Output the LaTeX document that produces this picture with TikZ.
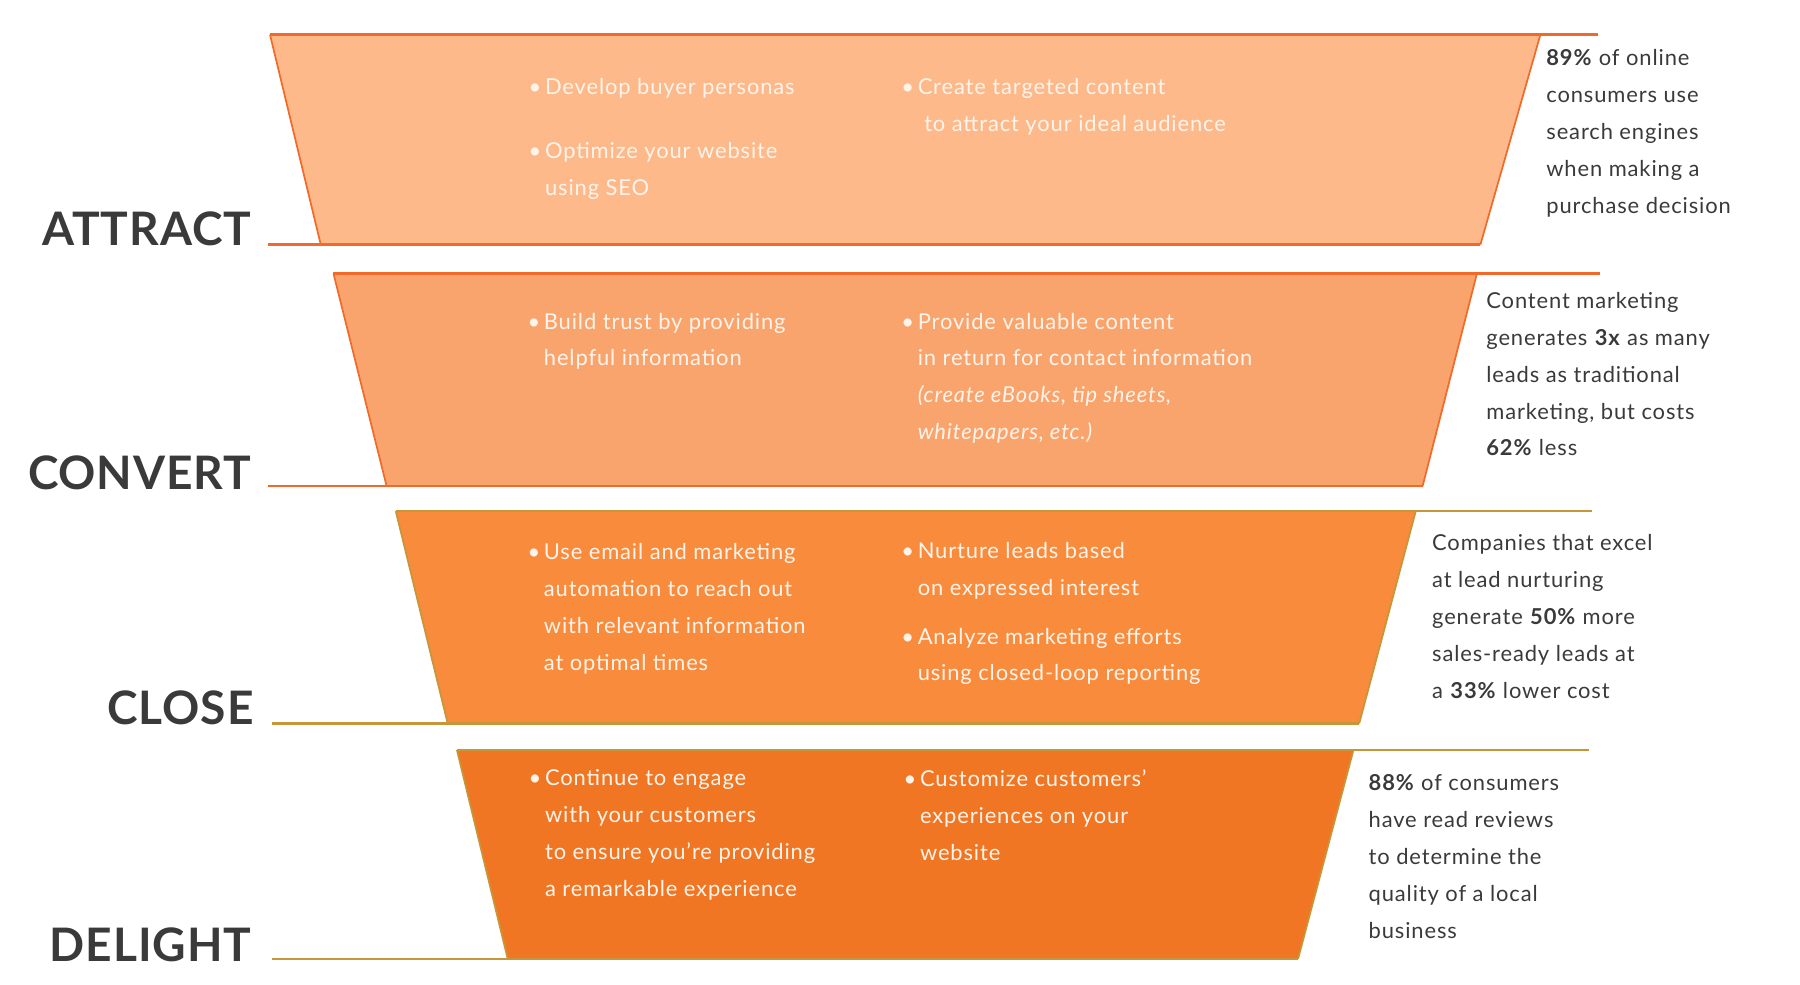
\documentclass[tikz,border=0pt]{standalone}
\usepackage{fontspec}
\setmainfont{Lato}[LetterSpace=4]
\newfontfamily\labfont{Lato}[LetterSpace=2]
\definecolor{lineA}{HTML}{F26A2A}
\definecolor{lineB}{HTML}{C8963A}
\definecolor{fA}{HTML}{FDB98A}
\definecolor{fB}{HTML}{F9A46C}
\definecolor{fC}{HTML}{F88B3C}
\definecolor{fD}{HTML}{F07623}
\definecolor{dark}{HTML}{3A3A3A}
\definecolor{wt}{HTML}{FFF4EC}
\begin{document}
\begin{tikzpicture}[x=1pt,y=-1pt,
  body/.style={anchor=north west,inner sep=0pt,align=left,text=wt,font=\fontsize{19}{32}\selectfont},
  side/.style={anchor=north west,inner sep=0pt,align=left,text=dark,font=\fontsize{19}{32}\selectfont},
  stage/.style={anchor=base east,inner sep=0pt,text=dark,font=\labfont\bfseries\fontsize{40}{40}\selectfont}]
\useasboundingbox (0,0) rectangle (1560,853);
\newcommand{\ind}{\phantom{•\,}}
% ATTRACT
\fill[fA] (234,30) -- (1335,30) -- (1283,212) -- (278,212) -- cycle;
\draw[lineA,line width=2pt] (234,30) -- (1385,30);
\draw[lineA,line width=1.5pt] (234,30) -- (278,212) (1335,30) -- (1283,212);
\draw[lineA,line width=2pt] (232,212) -- (1283,212);
% CONVERT
\fill[fB] (289,237) -- (1280,237) -- (1233,421) -- (335,421) -- cycle;
\draw[lineA,line width=2pt] (289,237) -- (1387,237);
\draw[lineA,line width=1.5pt] (289,237) -- (335,421) (1280,237) -- (1233,421);
\draw[lineA,line width=2pt] (232,421) -- (1233,421);
% CLOSE
\fill[fC] (343,443) -- (1227,443) -- (1178,627) -- (388,627) -- cycle;
\draw[lineB,line width=2pt] (343,443) -- (1380,443);
\draw[lineB,line width=1.5pt] (343,443) -- (388,627) (1227,443) -- (1178,627);
\draw[lineB,line width=2pt] (236,627) -- (1178,627);
% DELIGHT
\fill[fD] (396,650) -- (1173,650) -- (1125,831) -- (440,831) -- cycle;
\draw[lineB,line width=2pt] (396,650) -- (1377,650);
\draw[lineB,line width=1.5pt] (396,650) -- (440,831) (1173,650) -- (1125,831);
\draw[lineB,line width=2pt] (236,831) -- (1125,831);
% stage labels
\node[stage] (la) at (218,213) {ATTRACT};
\node[stage] (lb) at (218,424) {CONVERT};
\node[stage] (lc) at (220,628) {CLOSE};
\node[stage] (ld) at (218,833) {DELIGHT};
% body texts
\node[body] (a1) at (458,68) {•\,Develop buyer personas};
\node[body] (a2) at (458,123) {•\,Optimize your website\\\ind using SEO};
\node[body] (a3) at (781,68) {•\,Create targeted content\\\ind\ to attract your ideal audience};
\node[body] (b1) at (457,271) {•\,Build trust by providing\\\ind helpful information};
\node[body] (b2) at (781,271) {•\,Provide valuable content\\\ind in return for contact information\\\ind \itshape(create eBooks, tip sheets,\\\ind \itshape whitepapers, etc.)};
\node[body] (c1) at (457,471) {•\,Use email and marketing\\\ind automation to reach out\\\ind with relevant information\\\ind at optimal times};
\node[body] (c2) at (781,470) {•\,Nurture leads based\\\ind on expressed interest};
\node[body] (c3) at (781,544) {•\,Analyze marketing efforts\\\ind using closed-loop reporting};
\node[body] (d1) at (458,667) {•\,Continue to engage\\\ind with your customers\\\ind to ensure you’re providing\\\ind a remarkable experience};
\node[body] (d2) at (783,667) {•\,Customize customers’\\\ind experiences on your\\\ind website};
% side texts
\node[side] (sa) at (1340,43) {\textbf{89\%} of online\\consumers use\\search engines\\when making a\\purchase decision};
\node[side] (sb) at (1288,253) {Content marketing\\generates \textbf{3x} as many\\leads as traditional\\marketing, but costs\\\textbf{62\%} less};
\node[side] (sc) at (1241,463) {Companies that excel\\at lead nurturing\\generate \textbf{50\%} more\\sales-ready leads at\\a \textbf{33\%} lower cost};
\node[side] (sd) at (1186,671) {\textbf{88\%} of consumers\\have read reviews\\to determine the\\quality of a local\\business};
\end{tikzpicture}
\end{document}
